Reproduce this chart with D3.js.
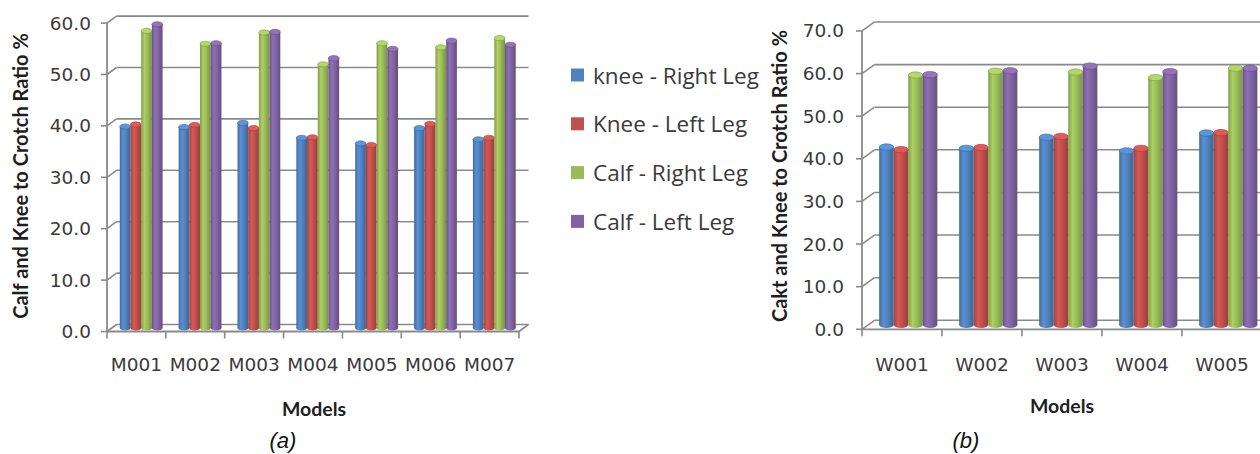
<!DOCTYPE html>
<html><head><meta charset="utf-8">
<script src="https://cdn.jsdelivr.net/npm/d3@7"></script>
<style>
html,body{margin:0;padding:0;background:#fff;}
svg{display:block;}
</style></head>
<body>
<svg id="chart" width="1260" height="454"></svg>
<script>
// ---------- data ----------
const seriesNames = ["knee - Right Leg", "Knee - Left Leg", "Calf - Right Leg", "Calf - Left Leg"];
const seriesColors = ["#4F81BD", "#C0504D", "#9BBB59", "#8064A2"];

const categoriesA = ["M001", "M002", "M003", "M004", "M005", "M006", "M007"];
const kneeRightA = [39.2, 39.1, 39.9, 37.0, 35.9, 38.9, 36.7];
const kneeLeftA  = [39.6, 39.5, 38.9, 37.1, 35.6, 39.7, 37.0];
const calfRightA = [57.8, 55.3, 57.5, 51.3, 55.4, 54.6, 56.4];
const calfLeftA  = [59.1, 55.4, 57.6, 52.5, 54.3, 55.9, 55.1];
const yTicksA = [0, 10, 20, 30, 40, 50, 60];

const categoriesB = ["W001", "W002", "W003", "W004", "W005"];
const kneeRightB = [41.7, 41.4, 44.0, 40.8, 45.0];
const kneeLeftB  = [41.1, 41.6, 44.2, 41.4, 45.1];
const calfRightB = [58.6, 59.5, 59.3, 58.0, 60.2];
const calfLeftB  = [58.7, 59.6, 60.7, 59.4, 60.2];
const yTicksB = [0, 10, 20, 30, 40, 50, 60, 70];

const yTitleA = "Calf and Knee to Crotch Ratio %";
const yTitleB = "Cakt and Knee to Crotch Ratio %";
const xTitle = "Models";

// ---------- drawing ----------
const svg = d3.select("#chart");
const defs = svg.append("defs");

seriesColors.forEach((c, i) => {
  const base = d3.color(c);
  const g = defs.append("linearGradient").attr("id", "cyl" + i)
    .attr("x1", "0%").attr("x2", "100%").attr("y1", "0%").attr("y2", "0%");
  g.append("stop").attr("offset", "0%").attr("stop-color", base.darker(0.5));
  g.append("stop").attr("offset", "30%").attr("stop-color", base.brighter(0.3));
  g.append("stop").attr("offset", "60%").attr("stop-color", base);
  g.append("stop").attr("offset", "100%").attr("stop-color", base.darker(0.7));
});

const axisColor = "#8a8a8a";
const textColor = "#3a3a3a";

function drawChart(cfg) {
  const g = svg.append("g");
  const y = d3.scaleLinear().domain([0, d3.max(cfg.ticks)]).range([cfg.y0, cfg.yTop]);
  const x = d3.scaleBand().domain(cfg.categories).range([cfg.x0, cfg.x1]);
  const inner = d3.scaleBand().domain(d3.range(cfg.series.length))
    .range([0, x.bandwidth()]).paddingOuter(cfg.pad);
  const dx = cfg.dx, dy = cfg.dy;

  cfg.ticks.forEach(t => {
    g.append("line").attr("x1", cfg.x0 + dx).attr("x2", cfg.x1 + dx)
      .attr("y1", y(t) + dy).attr("y2", y(t) + dy)
      .attr("stroke", axisColor).attr("stroke-width", 1.6);
    g.append("line").attr("x1", cfg.x0).attr("x2", cfg.x0 + dx)
      .attr("y1", y(t)).attr("y2", y(t) + dy)
      .attr("stroke", axisColor).attr("stroke-width", 1.6);
    g.append("line").attr("x1", cfg.x0 - 6).attr("x2", cfg.x0)
      .attr("y1", y(t)).attr("y2", y(t))
      .attr("stroke", axisColor).attr("stroke-width", 1.6);
    g.append("text").attr("x", cfg.labelX).attr("y", y(t))
      .attr("text-anchor", "end").attr("dominant-baseline", "central")
      .attr("font-family", "DejaVu Sans").attr("font-size", 18.5)
      .attr("fill", textColor).text(d3.format(".1f")(t));
  });
  g.append("line").attr("x1", cfg.x0).attr("x2", cfg.x1)
    .attr("y1", y(0)).attr("y2", y(0)).attr("stroke", axisColor).attr("stroke-width", 1.8);
  g.append("line").attr("x1", cfg.x1).attr("x2", cfg.x1 + dx)
    .attr("y1", y(0)).attr("y2", y(0) + dy).attr("stroke", axisColor).attr("stroke-width", 1.6);
  g.append("line").attr("x1", cfg.x0).attr("x2", cfg.x0)
    .attr("y1", y(0)).attr("y2", y(d3.max(cfg.ticks))).attr("stroke", axisColor).attr("stroke-width", 1.8);
  cfg.categories.concat(["__end"]).forEach((c, i) => {
    const xb = cfg.x0 + i * x.step();
    g.append("line").attr("x1", xb).attr("x2", xb)
      .attr("y1", y(0)).attr("y2", y(0) + 7)
      .attr("stroke", axisColor).attr("stroke-width", 1.6);
  });
  cfg.categories.forEach(c => {
    g.append("text").attr("x", x(c) + x.bandwidth() / 2).attr("y", cfg.catLabelY)
      .attr("text-anchor", "middle")
      .attr("font-family", "DejaVu Sans").attr("font-size", 18.5)
      .attr("fill", textColor).text(c);
  });

  const bx = dx / 2, by = dy / 2;
  const bw = inner.bandwidth();
  const ry = cfg.capRy;
  cfg.categories.forEach((c, ci) => {
    cfg.series.forEach((s, si) => {
      const v = s[ci];
      const left = x(c) + inner(si) + bx;
      const top = y(v) + by;
      const base = y(0) + by;
      const bar = g.append("g");
      bar.append("ellipse").attr("cx", left + bw / 2).attr("cy", base)
        .attr("rx", bw / 2).attr("ry", ry).attr("fill", "url(#cyl" + si + ")");
      bar.append("rect").attr("x", left).attr("y", top).attr("width", bw)
        .attr("height", base - top).attr("fill", "url(#cyl" + si + ")");
      bar.append("ellipse").attr("cx", left + bw / 2).attr("cy", top)
        .attr("rx", bw / 2).attr("ry", ry)
        .attr("fill", d3.color(seriesColors[si]).brighter(0.4))
        .attr("stroke", d3.color(seriesColors[si]).darker(0.6)).attr("stroke-width", 0.6);
    });
  });

  g.append("text").attr("transform", `translate(${cfg.titleX},${cfg.titleY}) rotate(-90)`)
    .attr("text-anchor", "middle").attr("dominant-baseline", "central")
    .attr("font-family", "Lato").attr("font-weight", "bold").attr("font-size", 20)
    .attr("fill", "#1e1e1e").text(cfg.yTitle);
  g.append("text").attr("x", cfg.xTitleX).attr("y", cfg.xTitleY)
    .attr("text-anchor", "middle").attr("dominant-baseline", "central")
    .attr("font-family", "Lato").attr("font-weight", "bold").attr("font-size", 19.5)
    .attr("fill", "#1e1e1e").text(xTitle);
  g.append("text").attr("x", cfg.capX).attr("y", 440)
    .attr("text-anchor", "middle").attr("dominant-baseline", "central")
    .attr("font-family", "Liberation Sans").attr("font-style", "italic").attr("font-size", 22)
    .attr("fill", "#111").text(cfg.caption);
}

drawChart({
  categories: categoriesA,
  series: [kneeRightA, kneeLeftA, calfRightA, calfLeftA],
  ticks: yTicksA,
  x0: 107, x1: 519, y0: 331.5, yTop: 331.5 - 60 * 5.14,
  dx: 9.5, dy: -7, pad: 0.75, capRy: 2.6,
  labelX: 91, catLabelY: 371,
  yTitle: yTitleA, titleX: 20, titleY: 176,
  xTitleX: 314, xTitleY: 408, capX: 283, caption: "(a)"
});

drawChart({
  categories: categoriesB,
  series: [kneeRightB, kneeLeftB, calfRightB, calfLeftB],
  ticks: yTicksB,
  x0: 862, x1: 1262, y0: 329.3, yTop: 329.3 - 70 * 4.262,
  dx: 12.5, dy: -9, pad: 0.75, capRy: 3.2,
  labelX: 844, catLabelY: 371,
  yTitle: yTitleB, titleX: 779, titleY: 176,
  xTitleX: 1062, xTitleY: 405, capX: 966, caption: "(b)"
});

const legend = svg.append("g");
seriesNames.forEach((n, i) => {
  const cy = 75 + i * 48.8;
  legend.append("rect").attr("x", 571).attr("y", cy - 6.5).attr("width", 13).attr("height", 13)
    .attr("fill", seriesColors[i]);
  legend.append("text").attr("x", 593).attr("y", cy)
    .attr("dominant-baseline", "central")
    .attr("font-family", "Open Sans").attr("font-size", 22.5)
    .attr("fill", textColor).text(n);
});
</script>
</body></html>
